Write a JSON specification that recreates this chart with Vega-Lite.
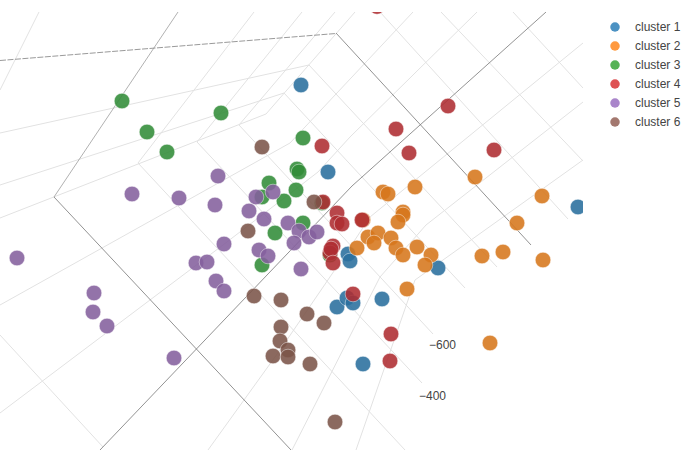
{"$schema":"https://vega.github.io/schema/vega-lite/v6.json","width":583,"height":438,"autosize":"none","padding":{"left":0,"top":12,"right":117,"bottom":0},"background":"white","config":{"view":{"stroke":null},"font":"Liberation Sans"},
"datasets":{
"grid":[
{"l":"a","i":0,"x":39,"y":12},{"l":"a","i":1,"x":0,"y":90},
{"l":"b","i":0,"x":254,"y":12},{"l":"b","i":1,"x":138,"y":163},{"l":"b","i":2,"x":405,"y":450},
{"l":"c","i":0,"x":302,"y":12},{"l":"c","i":1,"x":197,"y":142},{"l":"c","i":2,"x":422,"y":383},
{"l":"d","i":0,"x":335,"y":12},{"l":"d","i":1,"x":239,"y":125},{"l":"d","i":2,"x":433,"y":334},
{"l":"e","i":0,"x":0,"y":218},{"l":"e","i":1,"x":266,"y":114},{"l":"e","i":2,"x":355,"y":12},
{"l":"f","i":0,"x":0,"y":185},{"l":"f","i":1,"x":284,"y":93},{"l":"f","i":2,"x":465,"y":288},
{"l":"g","i":0,"x":0,"y":133},{"l":"g","i":1,"x":309,"y":65},{"l":"g","i":2,"x":497,"y":267},
{"l":"h","i":0,"x":0,"y":305},{"l":"h","i":1,"x":290,"y":143},{"l":"h","i":2,"x":413,"y":12},
{"l":"j","i":0,"x":0,"y":413},{"l":"j","i":1,"x":223,"y":245},{"l":"j","i":2,"x":318,"y":172},{"l":"j","i":3,"x":350,"y":137},{"l":"j","i":4,"x":477,"y":12},
{"l":"k","i":0,"x":208,"y":450},{"l":"k","i":1,"x":280,"y":350},{"l":"k","i":2,"x":345,"y":255},{"l":"k","i":3,"x":370,"y":217},{"l":"k","i":4,"x":583,"y":43},
{"l":"m","i":0,"x":292,"y":450},{"l":"m","i":1,"x":380,"y":277},{"l":"m","i":2,"x":426,"y":225},{"l":"m","i":3,"x":583,"y":102},
{"l":"n","i":0,"x":356,"y":450},{"l":"n","i":1,"x":415,"y":280},{"l":"n","i":2,"x":492,"y":225},{"l":"n","i":3,"x":583,"y":160},
{"l":"o","i":0,"x":0,"y":335},{"l":"o","i":1,"x":103,"y":447},
{"l":"p","i":0,"x":380,"y":12},{"l":"p","i":1,"x":568,"y":219},
{"l":"q","i":0,"x":441,"y":12},{"l":"q","i":1,"x":583,"y":161},
{"l":"r","i":0,"x":513,"y":12},{"l":"r","i":1,"x":583,"y":88}
],
"axes":[
{"l":"b","i":0,"x":54,"y":197},{"l":"b","i":1,"x":291,"y":450},
{"l":"c","i":0,"x":100,"y":450},{"l":"c","i":1,"x":352,"y":186},{"l":"c","i":2,"x":546,"y":12},
{"l":"d","i":0,"x":336,"y":33},{"l":"d","i":1,"x":531,"y":245}
],
"edge":[{"l":"a","i":0,"x":178,"y":12},{"l":"a","i":1,"x":54,"y":197}],
"dashed":[{"l":"z","i":0,"x":0,"y":60.5},{"l":"z","i":1,"x":336,"y":33.5}],
"ticks":[{"x":429,"y":344.5,"t":"−600"},{"x":419,"y":395.5,"t":"−400"}],
"points":[
{"c":"cluster 1","x":301,"y":85},{"c":"cluster 1","x":328,"y":172},{"c":"cluster 1","x":578,"y":207},{"c":"cluster 1","x":438,"y":268},{"c":"cluster 1","x":348,"y":254},{"c":"cluster 1","x":350,"y":261},{"c":"cluster 1","x":337,"y":307},{"c":"cluster 1","x":347,"y":298},{"c":"cluster 1","x":353,"y":303},{"c":"cluster 1","x":382,"y":299},{"c":"cluster 1","x":363,"y":364},
{"c":"cluster 2","x":383,"y":192},{"c":"cluster 2","x":388,"y":194},{"c":"cluster 2","x":415,"y":187},{"c":"cluster 2","x":475,"y":177},{"c":"cluster 2","x":542,"y":196},{"c":"cluster 2","x":517,"y":223},{"c":"cluster 2","x":403,"y":212},{"c":"cluster 2","x":403,"y":215},{"c":"cluster 2","x":398,"y":222},{"c":"cluster 2","x":363,"y":220},{"c":"cluster 2","x":357,"y":248},{"c":"cluster 2","x":368,"y":237},{"c":"cluster 2","x":378,"y":233},{"c":"cluster 2","x":374,"y":243},{"c":"cluster 2","x":391,"y":238},{"c":"cluster 2","x":396,"y":248},{"c":"cluster 2","x":403,"y":255},{"c":"cluster 2","x":417,"y":247},{"c":"cluster 2","x":431,"y":255},{"c":"cluster 2","x":425,"y":265},{"c":"cluster 2","x":482,"y":256},{"c":"cluster 2","x":503,"y":252},{"c":"cluster 2","x":543,"y":260},{"c":"cluster 2","x":407,"y":289},{"c":"cluster 2","x":490,"y":343},
{"c":"cluster 3","x":122,"y":101},{"c":"cluster 3","x":221,"y":113},{"c":"cluster 3","x":147,"y":132},{"c":"cluster 3","x":167,"y":152},{"c":"cluster 3","x":303,"y":138},{"c":"cluster 3","x":297,"y":169},{"c":"cluster 3","x":299,"y":172},{"c":"cluster 3","x":269,"y":183},{"c":"cluster 3","x":296,"y":190},{"c":"cluster 3","x":284,"y":201},{"c":"cluster 3","x":262,"y":197},{"c":"cluster 3","x":322,"y":203},{"c":"cluster 3","x":303,"y":223},{"c":"cluster 3","x":275,"y":233},{"c":"cluster 3","x":262,"y":265},{"c":"cluster 3","x":330,"y":255},
{"c":"cluster 4","x":377,"y":6.5},{"c":"cluster 4","x":448,"y":106},{"c":"cluster 4","x":396,"y":129},{"c":"cluster 4","x":409,"y":153},{"c":"cluster 4","x":494,"y":150},{"c":"cluster 4","x":322,"y":146},{"c":"cluster 4","x":323,"y":202},{"c":"cluster 4","x":337,"y":213},{"c":"cluster 4","x":337,"y":223},{"c":"cluster 4","x":342,"y":224},{"c":"cluster 4","x":362,"y":220},{"c":"cluster 4","x":333,"y":246},{"c":"cluster 4","x":330,"y":253},{"c":"cluster 4","x":331,"y":249},{"c":"cluster 4","x":333,"y":263},{"c":"cluster 4","x":353,"y":294},{"c":"cluster 4","x":391,"y":334},{"c":"cluster 4","x":390,"y":361},
{"c":"cluster 5","x":17,"y":258},{"c":"cluster 5","x":132,"y":194},{"c":"cluster 5","x":179,"y":198},{"c":"cluster 5","x":218,"y":176},{"c":"cluster 5","x":215,"y":205},{"c":"cluster 5","x":256,"y":197},{"c":"cluster 5","x":273,"y":192},{"c":"cluster 5","x":249,"y":211},{"c":"cluster 5","x":264,"y":219},{"c":"cluster 5","x":288,"y":223},{"c":"cluster 5","x":299,"y":231},{"c":"cluster 5","x":294,"y":243},{"c":"cluster 5","x":309,"y":237},{"c":"cluster 5","x":317,"y":232},{"c":"cluster 5","x":259,"y":250},{"c":"cluster 5","x":268,"y":256},{"c":"cluster 5","x":301,"y":269},{"c":"cluster 5","x":224,"y":244},{"c":"cluster 5","x":196,"y":263},{"c":"cluster 5","x":207,"y":262},{"c":"cluster 5","x":216,"y":281},{"c":"cluster 5","x":224,"y":291},{"c":"cluster 5","x":94,"y":293},{"c":"cluster 5","x":93,"y":312},{"c":"cluster 5","x":107,"y":326},{"c":"cluster 5","x":174,"y":358},
{"c":"cluster 6","x":262,"y":147},{"c":"cluster 6","x":314,"y":202},{"c":"cluster 6","x":248,"y":231},{"c":"cluster 6","x":254,"y":296},{"c":"cluster 6","x":281,"y":300},{"c":"cluster 6","x":307,"y":314},{"c":"cluster 6","x":324,"y":323},{"c":"cluster 6","x":281,"y":327},{"c":"cluster 6","x":280,"y":341},{"c":"cluster 6","x":288,"y":350},{"c":"cluster 6","x":273,"y":356},{"c":"cluster 6","x":288,"y":357},{"c":"cluster 6","x":310,"y":364},{"c":"cluster 6","x":335,"y":422}
]},
"encoding":{
"x":{"field":"x","type":"quantitative","axis":null,"scale":{"domain":[0,583],"nice":false,"zero":false}},
"y":{"field":"y","type":"quantitative","axis":null,"scale":{"domain":[450,12],"nice":false,"zero":false}}},
"layer":[
{"data":{"name":"grid"},"mark":{"type":"line","stroke":"#e2e2e2","strokeWidth":1,"clip":true},"encoding":{"detail":{"field":"l"},"order":{"field":"i","type":"quantitative"}}},
{"data":{"name":"edge"},"mark":{"type":"line","stroke":"#a8a8a8","strokeWidth":0.9,"clip":true},"encoding":{"detail":{"field":"l"},"order":{"field":"i","type":"quantitative"}}},
{"data":{"name":"axes"},"mark":{"type":"line","stroke":"#777777","strokeWidth":0.8,"clip":true},"encoding":{"detail":{"field":"l"},"order":{"field":"i","type":"quantitative"}}},
{"data":{"name":"dashed"},"mark":{"type":"line","stroke":"#9a9a9a","strokeWidth":1,"strokeDash":[6,1.5],"clip":true},"encoding":{"detail":{"field":"l"},"order":{"field":"i","type":"quantitative"}}},
{"data":{"name":"ticks"},"mark":{"type":"text","align":"left","baseline":"middle","font":"Liberation Sans","fontSize":12,"fill":"#444444"},"encoding":{"text":{"field":"t"}}},
{"data":{"name":"points"},"mark":{"type":"circle","opacity":0,"clip":true},"encoding":{"fill":{"field":"c","type":"nominal","scale":{"domain":["cluster 1","cluster 2","cluster 3","cluster 4","cluster 5","cluster 6"],"range":["#1f77b4","#ff7f0e","#2ca02c","#d62728","#9467bd","#8c564b"]},"legend":{"title":null,"orient":"none","legendX":609,"legendY":9,"symbolSize":90,"symbolType":"circle","symbolOpacity":0.8,"symbolStrokeWidth":0,"labelFont":"Liberation Sans","labelFontSize":12,"labelColor":"#444444","labelOpacity":1,"labelOffset":14,"rowPadding":7,"padding":0}}}},
{"data":{"name":"points"},"mark":{"type":"circle","size":245,"opacity":0.88,"stroke":"#ffffff","strokeWidth":0.5,"clip":true},"encoding":{"color":{"field":"c","type":"nominal","legend":null,"scale":{"domain":["cluster 1","cluster 2","cluster 3","cluster 4","cluster 5","cluster 6"],"range":["#2a6f9e","#d7771c","#328d38","#af2d32","#85609e","#7c5549"]}},"stroke":{"value":"#ffffff"}}}
]}
